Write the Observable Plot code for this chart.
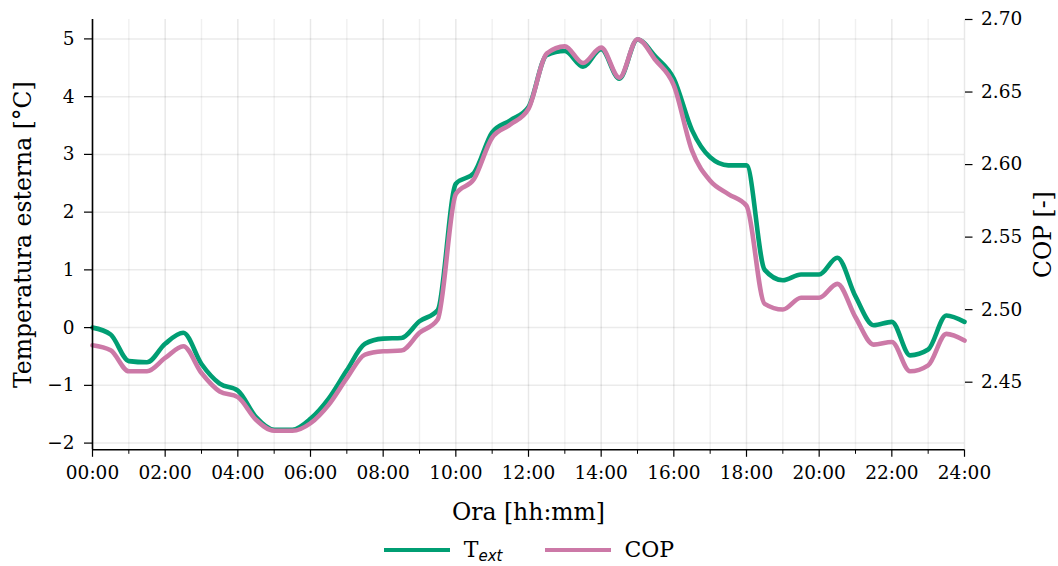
<!DOCTYPE html>
<html>
<head>
<meta charset="utf-8">
<script src="https://cdn.jsdelivr.net/npm/d3@7"></script>
<script src="https://cdn.jsdelivr.net/npm/@observablehq/plot@0.6"></script>
<style>
  html, body { margin: 0; padding: 0; background: #fff; }
  #wrap { position: relative; width: 1058px; height: 566px; overflow: hidden; }
  #legend {
    position: absolute; left: 0; top: 534px; width: 1058px; height: 32px;
    display: flex; justify-content: center; align-items: center;
    font-family: "DejaVu Serif", serif; font-size: 22px; line-height: 24px; color: #000;
  }
  .item { display: flex; align-items: center; }
  .swatch { display: inline-block; width: 66px; height: 4.5px; margin-right: 14px; }
  .sub { font-family: "DejaVu Sans", sans-serif; font-style: italic; font-size: 15px; line-height: 15px; position: relative; top: 4px; }
</style>
</head>
<body>
<div id="wrap">
  <div id="chart"></div>
  <div id="legend"></div>
</div>
<script>
// ---- data (30-minute samples) ----
const hours = [0,0.5,1,1.5,2,2.5,3,3.5,4,4.5,5,5.5,6,6.5,7,7.5,8,8.5,9,9.5,10,10.5,11,11.5,12,12.5,13,13.5,14,14.5,15,15.5,16,16.5,17,17.5,18,18.5,19,19.5,20,20.5,21,21.5,22,22.5,23,23.5,24];
const tempExt = [0.0,-0.12,-0.58,-0.6,-0.28,-0.09,-0.63,-0.97,-1.09,-1.55,-1.77,-1.77,-1.58,-1.23,-0.74,-0.28,-0.19,-0.18,0.11,0.3,2.49,2.68,3.38,3.59,3.82,4.72,4.79,4.52,4.82,4.31,4.99,4.69,4.31,3.42,2.95,2.81,2.81,1.0,0.82,0.92,0.92,1.21,0.54,0.04,0.1,-0.48,-0.38,0.21,0.1];
const cop = [2.4755,2.472,2.4575,2.4575,2.4667,2.4748,2.4563,2.4436,2.4397,2.4241,2.4165,2.4165,2.4217,2.4344,2.4528,2.4690,2.4713,2.4718,2.4840,2.4932,2.5797,2.5900,2.6186,2.6276,2.6384,2.6765,2.6815,2.6700,2.6806,2.6599,2.6864,2.6719,2.6546,2.6096,2.5889,2.5797,2.5716,2.504,2.5001,2.5082,2.5082,2.5178,2.4948,2.4759,2.4777,2.4575,2.4616,2.4833,2.4787];

// ---- ticks ----
const xMajorTicks = [0,2,4,6,8,10,12,14,16,18,20,22,24];
const xTickLabels = ["00:00","02:00","04:00","06:00","08:00","10:00","12:00","14:00","16:00","18:00","20:00","22:00","24:00"];
const xMinorTicks = [1,3,5,7,9,11,13,15,17,19,21,23];
const xGridHours = d3.range(0, 25, 1);
const tempTicks = [-2,-1,0,1,2,3,4,5];
const copTicks = [2.45,2.50,2.55,2.60,2.65,2.70];
const copTickLabels = ["2.45","2.50","2.55","2.60","2.65","2.70"];

// ---- dual-axis domains ----
const tDomain = [-2.116, 5.336];
const cDomain = [2.4034, 2.70];
const toT = c => tDomain[0] + (c - cDomain[0]) / (cDomain[1] - cDomain[0]) * (tDomain[1] - tDomain[0]);

const rows = hours.map((h, i) => ({h, t: tempExt[i], c: cop[i]}));
const GREEN = "#009E73", PINK = "#CC79A7";
const copTickPos = copTicks.map(toT);

const chart = Plot.plot({
  width: 1058,
  height: 530,
  marginLeft: 92,
  marginRight: 94,
  marginTop: 19,
  marginBottom: 80.7,
  style: {fontFamily: "DejaVu Serif, serif", fontSize: "18.5px", color: "#000", background: "#fff", overflow: "visible"},
  x: {domain: [0, 24]},
  y: {domain: tDomain},
  marks: [
    Plot.gridX(xGridHours.filter(h => h % 2 === 1), {stroke: "#000", strokeOpacity: 0.06, strokeWidth: 1.5}),
    Plot.gridX(xGridHours.filter(h => h % 2 === 0), {stroke: "#000", strokeOpacity: 0.09, strokeWidth: 1.5}),
    Plot.gridY(tempTicks, {stroke: "#000", strokeOpacity: 0.08, strokeWidth: 1.5}),
    Plot.line(rows, {x: "h", y: "t", stroke: GREEN, strokeWidth: 4.6, curve: "monotone-x", strokeLinejoin: "round", strokeLinecap: "round"}),
    Plot.line(rows, {x: "h", y: d => toT(d.c), stroke: PINK, strokeWidth: 4.6, curve: "monotone-x", strokeLinejoin: "round", strokeLinecap: "round"}),
    Plot.ruleX([0], {stroke: "#000", strokeWidth: 1.6}),
    Plot.ruleY([tDomain[0]], {stroke: "#000", strokeWidth: 1.6}),
    Plot.axisX(xMajorTicks, {anchor: "bottom", tickSize: 7.5, tickPadding: 9, strokeWidth: 1.2, tickFormat: (d) => xTickLabels[xMajorTicks.indexOf(d)], label: null}),
    Plot.axisX(xMinorTicks, {anchor: "bottom", tickSize: 4.5, strokeWidth: 1, tickFormat: () => "", label: null}),
    Plot.axisY(tempTicks, {anchor: "left", tickSize: 8, tickPadding: 10, strokeWidth: 1.2, tickFormat: d => (d < 0 ? "\u2212" + Math.abs(d) : String(d)), label: null}),
    Plot.axisY(copTickPos, {anchor: "right", tickSize: 7.5, tickPadding: 9, strokeWidth: 1.2, tickFormat: (d) => copTickLabels[copTickPos.indexOf(d)], label: null}),
    Plot.text(["Temperatura esterna [°C]"], {text: d => d, frameAnchor: "left", textAnchor: "middle", lineAnchor: "middle", rotate: -90, dx: -69, fontSize: 23.5, fill: "#000"}),
    Plot.text(["COP [-]"], {text: d => d, frameAnchor: "right", textAnchor: "middle", lineAnchor: "middle", rotate: -90, dx: 79, fontSize: 23.5, fill: "#000"}),
    Plot.text(["Ora [hh:mm]"], {text: d => d, frameAnchor: "bottom", textAnchor: "middle", lineAnchor: "middle", dy: 63, fontSize: 23.5, fill: "#000"})
  ]
});
document.getElementById("chart").appendChild(chart);

// ---- legend ----
const legendItems = [
  {color: GREEN, main: "T", sub: "ext"},
  {color: PINK, main: "COP", sub: ""}
];
const legend = document.getElementById("legend");
legendItems.forEach((it, i) => {
  const el = document.createElement("div");
  el.className = "item";
  if (i > 0) el.style.marginLeft = "42px";
  const sw = document.createElement("span");
  sw.className = "swatch";
  sw.style.background = it.color;
  const tx = document.createElement("span");
  tx.textContent = it.main;
  if (it.sub) {
    const s = document.createElement("span");
    s.className = "sub";
    s.textContent = it.sub;
    tx.appendChild(s);
  }
  el.appendChild(sw);
  el.appendChild(tx);
  legend.appendChild(el);
});
</script>
</body>
</html>
